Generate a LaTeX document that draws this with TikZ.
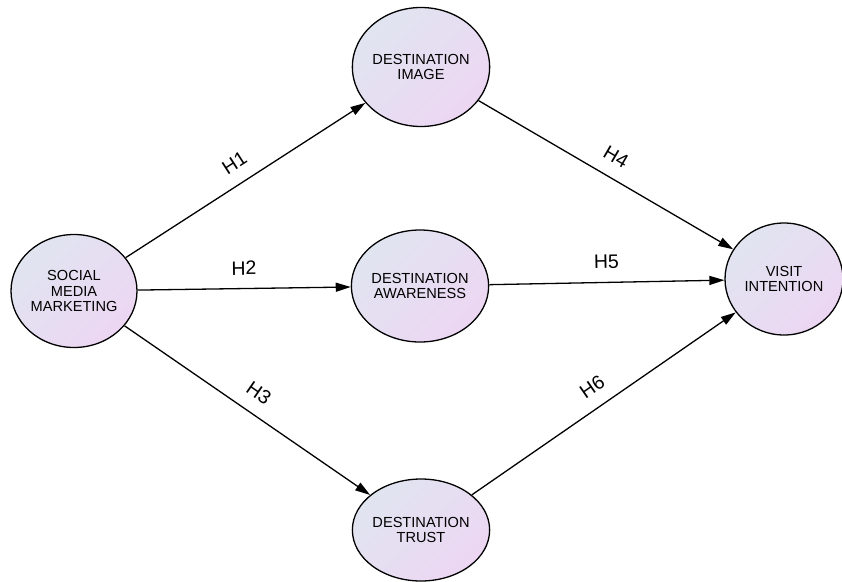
\documentclass[tikz,border=0pt]{standalone}
\usepackage{fontspec}
\setmainfont{Liberation Sans}
\usetikzlibrary{shapes.geometric, arrows.meta}
\definecolor{fillA}{RGB}{224,229,240}
\definecolor{fillB}{RGB}{237,214,243}

\begin{document}
\begin{tikzpicture}[x = 1pt, y = -1pt,
  construct/.style = {ellipse, draw, line width = 1.3pt, top color = fillA, bottom color = fillB, shading angle = 45, inner sep = 0pt, align = center, font = \fontsize{14.6}{15.8}\selectfont},
  link/.style = {line width = 1.3pt, -{Triangle[length = 15pt, width = 9pt]}},
  hyp/.style = {midway, sloped, above = 13pt, inner sep = 0pt, font = \fontsize{19.5}{22}\selectfont}]
\useasboundingbox (0, 0) rectangle (842, 581);
\node[construct, minimum width = 126pt, minimum height = 113pt] (smm) at (74, 291) {SOCIAL\\MEDIA\\MARKETING};
\node[construct, minimum width = 125pt, minimum height = 119pt] (img) at (421, 67) {DESTINATION\\IMAGE};
\node[construct, minimum width = 126pt, minimum height = 112pt] (aware) at (420, 286) {DESTINATION\\AWARENESS};
\node[construct, minimum width = 125pt, minimum height = 102pt] (trust) at (421, 530) {DESTINATION\\TRUST};
\node[construct, minimum width = 118pt, minimum height = 112pt] (visit) at (784, 279) {VISIT\\INTENTION};
\draw[link] (smm) -- (img) node[hyp] (h1) {H1};
\draw[link] (smm) -- (aware) node[hyp] (h2) {H2};
\draw[link] (smm) -- (trust) node[hyp] (h3) {H3};
\draw[link] (img) -- (visit) node[hyp] (h4) {H4};
\draw[link] (aware) -- (visit) node[hyp] (h5) {H5};
\draw[link] (trust) -- (visit) node[hyp] (h6) {H6};
\end{tikzpicture}
\end{document}
